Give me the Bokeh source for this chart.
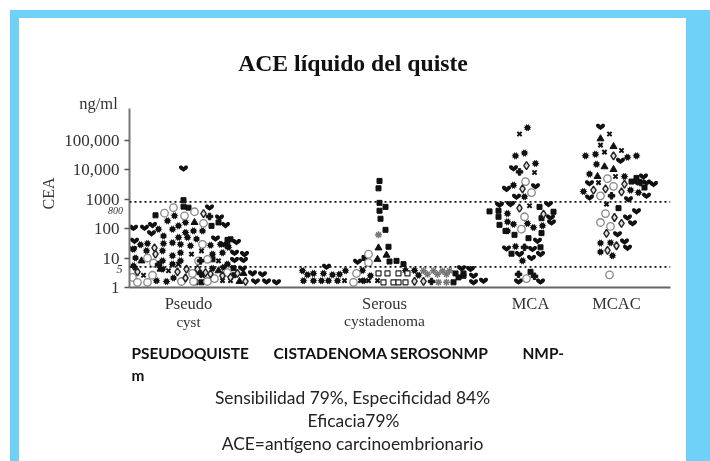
from bokeh.plotting import figure
from bokeh.embed import file_html
from bokeh.resources import INLINE
from bokeh.layouts import column
from bokeh.core.properties import value
from bokeh.models import Range1d, FixedTicker, Span, CustomJS

heart_x = [183,209,219,225,133,144,152,151,134,215,223,236,234,244,243,234,242,252,262,255,266,132,
           357,326,461,470,473,473,276,
           513,506,535,516,499,510,548,550,551,537,506,519,532,531,540,518,540,483,
           600,620,643,637,646,653,589,646,589,628,636,627,632,617,624,627]
heart_cea = [10800,510,236,130,105,105,130,68,38,46,29,35,15,13.5,8.5,8.5,4.4,3,2.8,1.6,1.6,20,
             7.4,5,4.5,4.2,2.5,1.5,1.5,
             11000,2200,2700,1190,640,670,670,236,160,38,21,13.5,20,10,13.5,1.6,1.6,1.7,
             280000,19700,5800,3600,3600,3200,3400,1280,1120,980,380,236,150,64,36,22]
burst_x = [133,140,147,146,163,163,172,174,158,167,178,185,185,178,193,202,187,196,162,172,180,190,210,220,228,212,222,135,162,172,180,180,172,162,173,156,166,133,212,227,223,
           302,307,313,323,332,339,345,362,370,405,414,418,303,313,321,328,337,363,
           527,515,524,535,513,524,507,507,513,527,542,533,515,522,507,
           585,595,627,636,596,589,624,583,630,638,610,600,600,612]
burst_cea = [20,28,31,17.5,56,31,95,270,95,182,123,160,73,50,83,83,50,44,17.5,33,29,26,27,29,23,13.5,15,10,8,12,15,8,6.2,4.2,2.1,1.7,1.6,5.4,4.4,6.2,4.8,
             3.7,2.7,3,3,2.7,2.8,3.7,3.8,2.5,3.8,3.8,2.6,1.7,1.7,1.7,1.7,1.7,1.7,
             260000,29000,36000,16000,2950,1190,320,168,140,147,123,108,24.5,8,83,
             29000,33000,26000,29000,15000,7000,5800,1800,2000,1650,33,32,16,12]
square_x = [183,183,188,155,211,218,227,227,212,233,233,201,195,230,
            379,378,379,385,379,380,385,388,389,396,403,364,455,463,453,463,458,
            489,498,498,499,505,514,528,539,553,541,541,540,511,530,
            631,636,644,618]
square_cea = [910,550,510,280,123,160,41,26,9,4.5,2.6,1.5,1.5,43,
              4100,2300,740,540,400,214,90,24,7.6,8,6.2,10,3,3,1.5,2.5,2.2,
              380,400,250,133,83,61,47,540,370,224,70,23,14,3.4,
              3900,5200,2450,490]
triangle_x = [194,141,160,218,243,239,378,377,386,600,613,604,613,597]
triangle_cea = [160,8,4.2,3.7,3,1.6,22,9,12.5,110000,60000,12400,10000,5800]
circle_x = [164,173,184,194,203,202,198,207,147,153,152,132,137,147,181,193,207,214,227,192,
            368,368,356,353,525,531,524,521,526,607,613,600,605,600,610,609]
circle_cea = [330,510,270,370,150,29,8,9,10,6.7,2.6,2.2,1.5,1.5,1.6,1.6,1.6,2,3.2,3,
              13.5,7,3,1.5,3900,1650,250,95,2,4900,2700,1280,320,160,118,2.7]
cross_x = [143,135,191,201,218,202,222,230,168,178,344,360,368,377,519,534,529,609,600,604,621,615,598,606]
cross_cea = [2.6,4.5,13.5,17.5,8,2.5,1.7,1.7,3.7,6.2,1.7,1.7,1.7,1.7,160000,7900,590,160000,67000,39000,44000,5800,3600,670]
diamond_x = [154,155,203,137,177,186,185,197,205,210,222,237,245,230,414,423,526,522,519,543,613,593,605,624,621,614,621,606,616,607]
diamond_cea = [22,13.5,320,3.4,3.4,4.2,2.1,4.2,3.2,2.9,2.5,3,1.6,2.2,1.6,1.6,13500,2200,490,306,29000,2000,2200,3200,1760,236,150,68,26,18]
plus_x = [209,200,158,200,431,519,524,518,534,611,640]
plus_cea = [255,8,6,3,1.6,8300,23,2.8,2.4,1280,3600]
asterisk_x = [423,433,442,449,427,437,446,438,446,378]
asterisk_cea = [3.7,3.7,3.6,3.7,2.8,2.8,2.8,1.5,1.5,61]
open_square_x = [383,393,398,405,378,387,398,407]
open_square_cea = [1.5,1.5,1.5,1.5,3,3,3,3]

y_ticks = [1, 10, 100, 1000, 10000, 100000]
y_tick_labels = ["1", "10", "100", "1000", "10,000", "100,000"]
cutoffs = [800, 5]
cat_positions = [188, 384, 530, 616]
cat_labels = ["Pseudo", "Serous", "MCA", "MCAC"]

BLUE = "#6FD0F8"
INK = "#111111"
css = (":host::before{content:'';position:fixed;left:10px;top:10px;width:700px;height:451px;"
       "box-sizing:border-box;border-style:solid;border-color:%s;border-width:8px 24px 0 9px;"
       "z-index:-1;pointer-events:none}" % BLUE)

p = figure(width=702, height=453, output_backend="svg", toolbar_location=None,
           x_range=Range1d(129, 670), y_range=Range1d(1, 1.17e6), y_axis_type="log",
           min_border_left=129, min_border_right=32, min_border_top=108, min_border_bottom=166,
           border_fill_alpha=0, background_fill_alpha=0, outline_line_alpha=0, frame_align=False)
p.stylesheets = [css]
p.grid.visible = False

ax = p.yaxis[0]
ax.ticker = FixedTicker(ticks=y_ticks)
ax.major_label_overrides = {t: s for t, s in zip(y_ticks, y_tick_labels)}
ax.major_label_text_font = "Liberation Serif"
ax.major_label_text_font_size = "17px"
ax.major_label_text_color = "#333333"
ax.major_label_standoff = 5
ax.axis_line_color = "#777777"
ax.axis_line_width = 2
ax.major_tick_line_color = "#555555"
ax.major_tick_line_width = 1.5
ax.major_tick_out = 5
ax.major_tick_in = 0
ax.minor_tick_line_color = None

xx = p.xaxis[0]
xx.ticker = FixedTicker(ticks=cat_positions)
xx.major_label_overrides = {t: s for t, s in zip(cat_positions, cat_labels)}
xx.major_label_text_font = "Liberation Serif"
xx.major_label_text_font_size = "16.5px"
xx.major_label_text_color = "#333333"
xx.major_label_standoff = 6
xx.major_tick_out = 0
xx.major_tick_in = 0
xx.axis_line_color = "#666666"
xx.axis_line_width = 2
xx.major_tick_line_color = None
xx.minor_tick_line_color = None

for c in cutoffs:
    p.add_layout(Span(location=c, dimension="width", line_color=INK, line_width=1.6, line_dash="2 3"))

heart_js = CustomJS(code="""
const {ctx, r} = cb_data;
ctx.beginPath();
ctx.moveTo(0, r*0.72);
ctx.bezierCurveTo(-r*0.55, r*0.35, -r*1.1, r*0.05, -r*1.0, -r*0.35);
ctx.bezierCurveTo(-r*0.9, -r*0.85, -r*0.2, -r*0.75, 0, -r*0.3);
ctx.bezierCurveTo(r*0.2, -r*0.75, r*0.9, -r*0.85, r*1.0, -r*0.35);
ctx.bezierCurveTo(r*1.1, r*0.05, r*0.55, r*0.35, 0, r*0.72);
ctx.closePath();
ctx.fillStyle = "#111111";
ctx.fill();
""")
burst_js = CustomJS(code="""
const {ctx, r} = cb_data;
ctx.beginPath();
const n = 10;
for (let k = 0; k < 2*n; k++) {
  const a = Math.PI*k/n;
  const q = k % 2 == 0 ? r : r*0.62;
  if (k == 0) ctx.moveTo(q*Math.cos(a), q*Math.sin(a));
  else ctx.lineTo(q*Math.cos(a), q*Math.sin(a));
}
ctx.closePath();
ctx.fillStyle = "#111111";
ctx.fill();
""")

p.scatter(asterisk_x, asterisk_cea, marker="asterisk", size=7, line_color="#777777", line_width=1.5)
p.scatter(heart_x, heart_cea, marker="@heart", defs={"@heart": heart_js}, size=9, fill_color=INK, line_color=None)
p.scatter(burst_x, burst_cea, marker="@burst", defs={"@burst": burst_js}, size=8, fill_color=INK, line_color=None)
p.scatter(square_x, square_cea, marker="square", size=5, fill_color=INK, line_color=INK)
p.scatter(triangle_x, triangle_cea, marker="triangle", size=7, fill_color=INK, line_color=INK)
p.scatter(circle_x, circle_cea, marker="circle", size=7.5, fill_color="white", line_color="#888888", line_width=1.3)
p.scatter(cross_x, cross_cea, marker="x", size=6, line_color=INK, line_width=2)
p.scatter(diamond_x, diamond_cea, marker="diamond", size=8, fill_color="#dddddd", line_color="#222222", line_width=1.4)
p.scatter(plus_x, plus_cea, marker="plus", size=6.5, fill_color=INK, line_color=INK)
p.scatter(open_square_x, open_square_cea, marker="square", size=5, fill_color="white", line_color="#222222", line_width=1.2)

# A transparent page-sized figure on top carries the free texts around the plot.
t = figure(width=702, height=453, output_backend="svg", toolbar_location=None,
           x_range=Range1d(0, 702), y_range=Range1d(453, 0),
           x_axis_location=None, y_axis_location=None, frame_align=False,
           min_border=0, border_fill_alpha=0, background_fill_alpha=0, outline_line_alpha=0)
t.grid.visible = False
t.stylesheets = [":host{position:absolute !important;left:0;top:0;pointer-events:none}"]

def lab(x, y, text, font, size, style="normal", color="#222222", align="center", angle=0):
    t.text(x=[x], y=[y], text=[text], text_font=value(font), text_font_size=size,
           text_font_style=style, text_color=color, text_align=align,
           text_baseline="middle", angle=angle)

lab(352.5, 62, "ACE líquido del quiste", "Liberation Serif", "23.7px", "bold", "#111111")
lab(98, 103, "ng/ml", "Liberation Serif", "16.5px", color="#333333")
lab(48, 193, "CEA", "Liberation Serif", "16px", color="#333333", angle=1.5708)
lab(115, 210, "800", "Liberation Serif", "10px", "italic", "#333333")
lab(119, 268, "5", "Liberation Serif", "12px", "italic", "#333333")
lab(188, 321, "cyst", "Liberation Serif", "15px", color="#333333")
lab(384, 320, "cystadenoma", "Liberation Serif", "15.5px", color="#333333")
lab(131, 352, "PSEUDOQUISTE", "Lato", "15.4px", "bold", "#111111", "left")
lab(273, 352, "CISTADENOMA SEROSONMP", "Lato", "15.6px", "bold", "#111111", "left")
lab(522, 352, "NMP-", "Lato", "15.4px", "bold", "#111111", "left")
lab(131, 374, "m", "Lato", "15.4px", "bold", "#111111", "left")
lab(352, 397, "Sensibilidad 79%, Especificidad 84%", "Lato", "17.4px")
lab(353, 420, "Eficacia79%", "Lato", "17.4px")
lab(352, 443, "ACE=antígeno carcinoembrionario", "Lato", "17.4px")

open("out.html", "w").write(file_html(column(p, t), INLINE))
